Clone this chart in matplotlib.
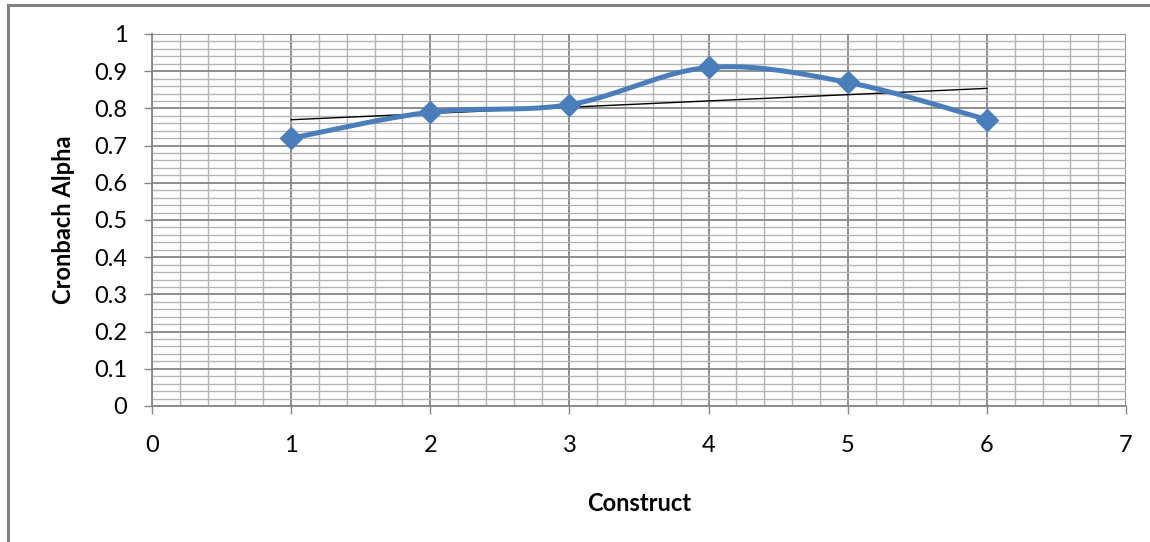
import numpy as np
import matplotlib
matplotlib.use("Agg")
import matplotlib.pyplot as plt
from matplotlib.ticker import MultipleLocator
from matplotlib.lines import Line2D

# ---- data ----
construct = [1, 2, 3, 4, 5, 6]
alpha = [0.72, 0.79, 0.81, 0.91, 0.87, 0.77]
x_ticks = [0, 1, 2, 3, 4, 5, 6, 7]
y_ticks = [0, 0.1, 0.2, 0.3, 0.4, 0.5, 0.6, 0.7, 0.8, 0.9, 1]
y_tick_labels = ["0", "0.1", "0.2", "0.3", "0.4", "0.5", "0.6", "0.7", "0.8", "0.9", "1"]
x_label = "Construct"
y_label = "Cronbach Alpha"

plt.rcParams['font.family'] = ['Lato', 'DejaVu Sans']

BLUE = "#4A7EBB"
MAJ = "#868686"
MIN = "#b4b4b4"


def smooth(xs, ys, n=40):
    """Excel-like smoothed line: cubic Bezier with Catmull-Rom tangents."""
    p = np.column_stack([xs, ys]).astype(float)
    ext = np.vstack([p[0], p, p[-1]])
    out = []
    t = np.linspace(0, 1, n)[:, None]
    for i in range(len(p) - 1):
        p0, p1 = ext[i + 1], ext[i + 2]
        c1 = p0 + (ext[i + 2] - ext[i]) / 6.0
        c2 = p1 - (ext[i + 3] - ext[i + 1]) / 6.0
        seg = ((1 - t) ** 3) * p0 + 3 * ((1 - t) ** 2) * t * c1 + 3 * (1 - t) * t ** 2 * c2 + t ** 3 * p1
        out.append(seg if i == 0 else seg[1:])
    s = np.vstack(out)
    return s[:, 0], s[:, 1]


fig = plt.figure(figsize=(11.5, 5.42), dpi=100)
ax = fig.add_axes([152 / 1150, 1 - 406 / 542, (1126 - 152) / 1150, (406 - 34) / 542])

ax.set_xlim(0, 7)
ax.set_ylim(0, 1)
ax.set_xticks(x_ticks)
ax.set_yticks(y_ticks)
ax.set_yticklabels(y_tick_labels)
ax.xaxis.set_minor_locator(MultipleLocator(0.2))
ax.yaxis.set_minor_locator(MultipleLocator(0.02))

ax.grid(which="minor", color=MIN, linewidth=1.0, zorder=0)
ax.grid(which="major", color=MAJ, linewidth=1.3, zorder=0)
ax.set_axisbelow(True)

for side in ["top", "right"]:
    ax.spines[side].set_visible(False)
for side in ["left", "bottom"]:
    ax.spines[side].set_color(MAJ)
    ax.spines[side].set_linewidth(1.3)

ax.tick_params(which="major", length=5.8, width=1.0, color=MAJ, labelsize=17,
               labelcolor="black")
ax.tick_params(axis="x", which="major", pad=15)
ax.tick_params(axis="y", which="major", pad=12)
ax.tick_params(which="minor", length=0)

# trendline (linear fit)
coef = np.polyfit(construct, alpha, 1)
tx = np.array([construct[0], construct[-1]], dtype=float)
ax.plot(tx, np.polyval(coef, tx), color="black", linewidth=1.0, zorder=3)

# smoothed series
sx, sy = smooth(construct, alpha)
ax.plot(sx, sy, color=BLUE, linewidth=3.6, solid_capstyle="round", zorder=4)
ax.plot(construct, alpha, linestyle="none", marker="D", markersize=11,
        color=BLUE, markeredgecolor=BLUE, zorder=5)

ax.set_xlabel(x_label, fontsize=17, fontweight="bold", labelpad=26)
ax.set_ylabel(y_label, fontsize=17, fontweight="bold", labelpad=14)

# outer frame
fig.add_artist(Line2D([8 / 1150, 8 / 1150], [0, 1 - 5 / 542], transform=fig.transFigure,
                      color="#808080", linewidth=2.2))
fig.add_artist(Line2D([8 / 1150, 1], [1 - 5 / 542, 1 - 5 / 542], transform=fig.transFigure,
                      color="#808080", linewidth=2.2))

fig.savefig("out.png", dpi=100, facecolor="white")
